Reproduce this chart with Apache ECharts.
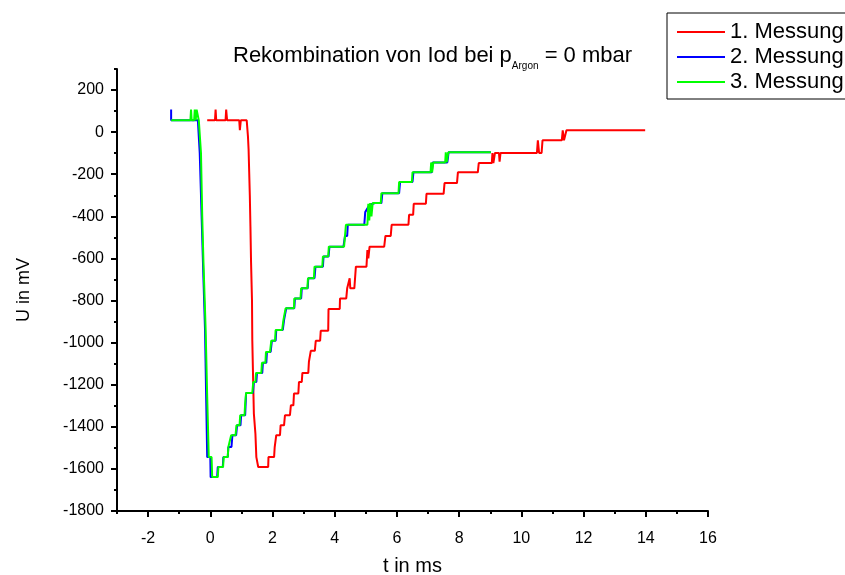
<!DOCTYPE html>
<html>
<head>
<meta charset="utf-8">
<script src="https://cdn.jsdelivr.net/npm/echarts@6/dist/echarts.min.js"></script>
<style>
  html, body { margin: 0; padding: 0; background: #fff; }
  #chart { width: 845px; height: 575px; }
</style>
</head>
<body>
<div id="chart"></div>
<script>
// tick positions (every step gets a small tick, the labelled ones a long tick)
const xTicks = [-3, -2, -1, 0, 1, 2, 3, 4, 5, 6, 7, 8, 9, 10, 11, 12, 13, 14, 15, 16];
const yTicks = [-1800, -1700, -1600, -1500, -1400, -1300, -1200, -1100, -1000, -900, -800,
    -700, -600, -500, -400, -300, -200, -100, 0, 100, 200, 300];

const seriesNames = ['1. Messung', '2. Messung', '3. Messung'];

// [t in ms, U in mV]
const messung1 = [
    [-0.10, 56], [0.15, 56], [0.17, 107], [0.19, 56], [0.49, 56], [0.51, 107], [0.54, 56],
    [0.93, 56], [0.95, 9], [0.98, 56], [1.17, 56], [1.21, -20], [1.23, -80], [1.27, -300],
    [1.29, -450], [1.31, -620], [1.34, -800], [1.35, -990], [1.38, -1200], [1.40, -1337],
    [1.45, -1433], [1.48, -1544], [1.54, -1544], [1.54, -1591], [1.86, -1591], [1.87, -1544],
    [2.05, -1544], [2.07, -1496], [2.10, -1496], [2.12, -1440], [2.24, -1440], [2.26, -1393],
    [2.37, -1393], [2.40, -1345], [2.56, -1345], [2.59, -1298], [2.67, -1298], [2.69, -1242],
    [2.83, -1242], [2.85, -1187], [2.94, -1187], [2.96, -1144], [3.15, -1144], [3.17, -1091],
    [3.21, -1091], [3.23, -1039], [3.36, -1039], [3.39, -991], [3.53, -991], [3.55, -944],
    [3.79, -944], [3.80, -840], [4.16, -840], [4.17, -790], [4.37, -790], [4.40, -742],
    [4.46, -742], [4.48, -694], [4.50, -742], [4.63, -742], [4.68, -639], [5.02, -639],
    [5.05, -560], [5.08, -600], [5.12, -544], [5.59, -544], [5.63, -493], [5.80, -493],
    [5.83, -440], [6.37, -440], [6.39, -393], [6.52, -393], [6.54, -340], [6.93, -340],
    [6.95, -293], [7.50, -293], [7.53, -242], [7.93, -242], [7.96, -191], [8.60, -191],
    [8.63, -147], [9.05, -147], [9.07, -99], [9.10, -147], [9.15, -99], [9.28, -99],
    [9.30, -140], [9.33, -99], [10.50, -99], [10.53, -39], [10.57, -99], [10.65, -99],
    [10.68, -39], [11.30, -39], [11.33, 9], [11.37, -39], [11.42, -39], [11.45, 9], [13.98, 9]
];

const messung2 = [
    [-1.26, 107], [-1.26, 56], [-0.40, 56], [-0.34, -100], [-0.28, -400], [-0.22, -700],
    [-0.17, -940], [-0.13, -1290], [-0.10, -1544], [0.00, -1544], [0.01, -1639], [0.22, -1639],
    [0.24, -1591], [0.40, -1591], [0.42, -1544], [0.56, -1544], [0.58, -1496], [0.68, -1496],
    [0.71, -1440], [0.83, -1440], [0.86, -1393], [0.97, -1393], [0.99, -1345], [1.12, -1345],
    [1.15, -1239], [1.37, -1239], [1.40, -1187], [1.48, -1187], [1.50, -1144], [1.67, -1144],
    [1.69, -1096], [1.80, -1096], [1.82, -1044], [1.94, -1044], [1.98, -991], [2.10, -991],
    [2.12, -940], [2.33, -940], [2.37, -893], [2.42, -893], [2.44, -837], [2.70, -837],
    [2.72, -790], [2.92, -790], [2.94, -742], [3.13, -742], [3.15, -694], [3.35, -694],
    [3.38, -639], [3.62, -639], [3.64, -591], [3.80, -591], [3.83, -544], [4.28, -544],
    [4.33, -493], [4.40, -493], [4.42, -440], [4.95, -440], [4.98, -380], [5.12, -345],
    [5.30, -337], [5.50, -337], [5.53, -290], [6.07, -290], [6.10, -237], [6.50, -237],
    [6.53, -191], [7.12, -191], [7.15, -144], [7.62, -144], [7.66, -96], [9.02, -96]
];

const messung3 = [
    [-1.26, 56], [-0.64, 56], [-0.62, 107], [-0.60, 56], [-0.52, 56], [-0.50, 107], [-0.47, 56],
    [-0.44, 107], [-0.40, 107], [-0.37, 56], [-0.34, 56], [-0.30, -100], [-0.26, -400],
    [-0.22, -620], [-0.18, -800], [-0.15, -940], [-0.10, -1258], [-0.05, -1544], [0.04, -1544],
    [0.06, -1639], [0.24, -1639], [0.26, -1591], [0.41, -1591], [0.43, -1544], [0.56, -1544],
    [0.58, -1496], [0.64, -1496], [0.67, -1440], [0.81, -1440], [0.84, -1393], [0.94, -1393],
    [0.96, -1345], [1.10, -1345], [1.12, -1290], [1.15, -1239], [1.35, -1239], [1.38, -1187],
    [1.45, -1187], [1.47, -1144], [1.64, -1144], [1.66, -1096], [1.77, -1096], [1.79, -1044],
    [1.92, -1044], [1.96, -991], [2.08, -991], [2.10, -940], [2.31, -940], [2.35, -893],
    [2.40, -893], [2.42, -837], [2.69, -837], [2.70, -790], [2.90, -790], [2.92, -742],
    [3.12, -742], [3.14, -694], [3.33, -694], [3.35, -639], [3.60, -639], [3.62, -591],
    [3.79, -591], [3.81, -544], [4.30, -544], [4.33, -493], [4.36, -440], [5.05, -440],
    [5.08, -340], [5.11, -420], [5.14, -337], [5.18, -400], [5.22, -337], [5.48, -337],
    [5.50, -290], [6.05, -290], [6.07, -237], [6.48, -237], [6.50, -191], [7.08, -191],
    [7.10, -144], [7.13, -191], [7.17, -144], [7.55, -144], [7.57, -96], [7.60, -144],
    [7.65, -96], [9.02, -96]
];

const FONT = "'Liberation Sans', Arial, sans-serif";

const createSeries = (name, data, color) => ({
    name,
    type: 'line',
    data,
    xAxisIndex: 0,
    yAxisIndex: 0,
    showSymbol: false,
    symbol: 'none',
    lineStyle: { color, width: 2 },
    itemStyle: { color },
    z: 3
});

const axisLineStyle = { color: '#000', width: 2 };
const isEven = step => (i, v) => +v % step === 0;

const chart = echarts.init(document.getElementById('chart'), null, { renderer: 'canvas' });

chart.setOption({
    animation: false,
    backgroundColor: '#fff',
    textStyle: { fontFamily: FONT, color: '#000' },
    title: {
        text: '{a|Rekombination von Iod bei p}{b|Argon}{a| = 0 mbar}',
        left: 233,
        top: 41,
        padding: 0,
        textStyle: {
            fontWeight: 'normal',
            rich: {
                a: { fontSize: 22, fontWeight: 'normal', fontFamily: FONT, color: '#000', lineHeight: 30 },
                b: { fontSize: 10, fontWeight: 'normal', fontFamily: FONT, color: '#000', lineHeight: 10, verticalAlign: 'bottom' }
            }
        }
    },
    legend: {
        data: seriesNames,
        orient: 'vertical',
        left: 667,
        top: 13,
        padding: [8, 20, 6, 10],
        itemGap: 3,
        itemWidth: 48,
        itemHeight: 2,
        icon: 'rect',
        borderColor: '#000',
        borderWidth: 1,
        backgroundColor: '#fff',
        textStyle: { fontSize: 22, lineHeight: 22, fontFamily: FONT, color: '#000' }
    },
    grid: { left: 117, right: 137, top: 69, bottom: 64, containLabel: false, outerBoundsMode: 'none' },
    xAxis: [
        {
            type: 'value',
            min: -3,
            max: 16,
            interval: 1,
            axisLine: { show: true, onZero: false, lineStyle: axisLineStyle },
            axisTick: { show: true, length: 3, lineStyle: { color: '#000', width: 2 } },
            axisLabel: { show: false },
            splitLine: { show: false },
            name: 't in ms',
            nameLocation: 'middle',
            nameGap: 45,
            nameTextStyle: { fontSize: 20, fontFamily: FONT, color: '#000' }
        },
        {
            type: 'category',
            data: xTicks.map(String),
            boundaryGap: false,
            position: 'bottom',
            axisLine: { show: false, onZero: false },
            axisTick: {
                show: true,
                length: 6,
                interval: isEven(2),
                lineStyle: { color: '#000', width: 2 }
            },
            axisLabel: {
                show: true,
                interval: isEven(2),
                margin: 20,
                fontSize: 16,
                fontFamily: FONT,
                color: '#000'
            },
            splitLine: { show: false }
        }
    ],
    yAxis: [
        {
            type: 'value',
            min: -1800,
            max: 300,
            interval: 100,
            axisLine: { show: true, onZero: false, lineStyle: axisLineStyle },
            axisTick: { show: true, length: 3, lineStyle: { color: '#000', width: 2 } },
            axisLabel: { show: false },
            splitLine: { show: false },
            name: 'U in mV',
            nameLocation: 'middle',
            nameGap: 84,
            nameRotate: 90,
            nameTextStyle: { fontSize: 18, fontFamily: FONT, color: '#000' }
        },
        {
            type: 'category',
            data: yTicks.map(String),
            boundaryGap: false,
            position: 'left',
            axisLine: { show: false, onZero: false },
            axisTick: {
                show: true,
                length: 6,
                interval: isEven(200),
                lineStyle: { color: '#000', width: 2 }
            },
            axisLabel: {
                show: true,
                interval: isEven(200),
                margin: 13,
                fontSize: 16,
                fontFamily: FONT,
                color: '#000'
            },
            splitLine: { show: false }
        }
    ],
    series: [
        createSeries(seriesNames[0], messung1, '#ff0000'),
        createSeries(seriesNames[1], messung2, '#0000ff'),
        createSeries(seriesNames[2], messung3, '#00ff00')
    ]
});
</script>
</body>
</html>
